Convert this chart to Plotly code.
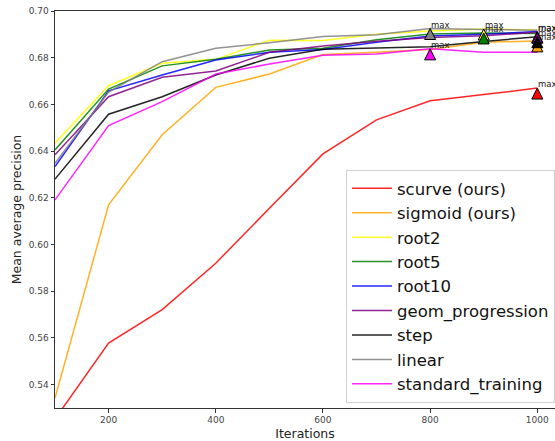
import plotly.graph_objects as go

iterations = [100, 200, 300, 400, 500, 600, 700, 800, 900, 1000]

series_names = ["scurve (ours)", "sigmoid (ours)", "root2", "root5", "root10",
                "geom_progression", "step", "linear", "standard_training"]
series_colors = ["#ff0000", "#ffa500", "#ffff00", "#008000", "#0000ff",
                 "#800080", "#000000", "#808080", "#ff00ff"]

scurve = [0.5253, 0.5578, 0.5721, 0.5920, 0.6155, 0.6388, 0.6534, 0.6616, 0.6642, 0.6670]
sigmoid = [0.5343, 0.6170, 0.6470, 0.6673, 0.6730, 0.6814, 0.6823, 0.6835, 0.6866, 0.6872]
root2 = [0.6434, 0.6680, 0.6776, 0.6793, 0.6875, 0.6874, 0.6900, 0.6914, 0.6923, 0.6919]
root5 = [0.6405, 0.6666, 0.6765, 0.6793, 0.6833, 0.6840, 0.6877, 0.6901, 0.6906, 0.6904]
root10 = [0.6334, 0.6658, 0.6726, 0.6790, 0.6823, 0.6835, 0.6866, 0.6893, 0.6900, 0.6912]
geom_progression = [0.6384, 0.6633, 0.6716, 0.6743, 0.6823, 0.6850, 0.6870, 0.6886, 0.6894, 0.6909]
step = [0.6280, 0.6558, 0.6633, 0.6726, 0.6798, 0.6836, 0.6842, 0.6847, 0.6869, 0.6890]
linear = [0.6348, 0.6653, 0.6783, 0.6840, 0.6864, 0.6891, 0.6898, 0.6925, 0.6921, 0.6918]
standard_training = [0.6191, 0.6509, 0.6612, 0.6730, 0.6773, 0.6811, 0.6816, 0.6838, 0.6823, 0.6823]

all_series = [scurve, sigmoid, root2, root5, root10, geom_progression, step, linear, standard_training]

x_ticks = [200, 400, 600, 800, 1000]
y_ticks = [0.54, 0.56, 0.58, 0.60, 0.62, 0.64, 0.66, 0.68, 0.70]

fig = go.Figure()
for name, color, vals in zip(series_names, series_colors, all_series):
    fig.add_trace(go.Scatter(x=iterations, y=vals, mode="lines", name=name,
                             line=dict(color=color, width=1.5), opacity=0.85))

annotations = []
for name, color, vals in zip(series_names, series_colors, all_series):
    m = max(vals)
    i = vals.index(m)
    fig.add_trace(go.Scatter(x=[iterations[i]], y=[m], mode="markers", showlegend=False,
                             marker=dict(symbol="arrow-up", size=11, color=color,
                                         line=dict(color="#000000", width=1))))
    annotations.append(dict(x=iterations[i], y=m, text="max", showarrow=False,
                            xanchor="left", yanchor="bottom", xshift=-1, yshift=-3,
                            font=dict(size=8.5, color="#222222", family="DejaVu Sans")))

fig.update_layout(
    width=555, height=441,
    margin=dict(l=55, r=0, t=11, b=33),
    paper_bgcolor="white", plot_bgcolor="white",
    font=dict(family="DejaVu Sans", color="#333333"),
    annotations=annotations,
    showlegend=True,
    legend=dict(x=(346 - 55) / 500, y=(408 - 170) / 397, xanchor="left", yanchor="top",
                font=dict(size=16.5, color="#111111", family="DejaVu Sans"),
                bgcolor="rgba(255,255,255,0.85)", bordercolor="#d0d0d0", borderwidth=1,
                itemwidth=40, tracegroupgap=0),
    xaxis=dict(range=[100, 1033], tickvals=x_ticks, showgrid=False, zeroline=False,
               showline=True, linecolor="#333333", linewidth=1, mirror=True,
               ticks="outside", ticklen=3.5, tickwidth=0.8, tickcolor="#333333",
               tickfont=dict(size=9, color="#444444"),
               title=dict(text="Iterations", font=dict(size=12.5, color="#222222"), standoff=4)),
    yaxis=dict(range=[0.53, 0.70], tickvals=y_ticks, tickformat=".2f", showgrid=False,
               zeroline=False, showline=True, linecolor="#333333", linewidth=1,
               ticks="outside", ticklen=3.5, tickwidth=0.8, tickcolor="#333333",
               tickfont=dict(size=9, color="#444444"),
               title=dict(text="Mean average precision", font=dict(size=12.5, color="#222222"),
                          standoff=4)),
)

fig.write_html("out.html")
